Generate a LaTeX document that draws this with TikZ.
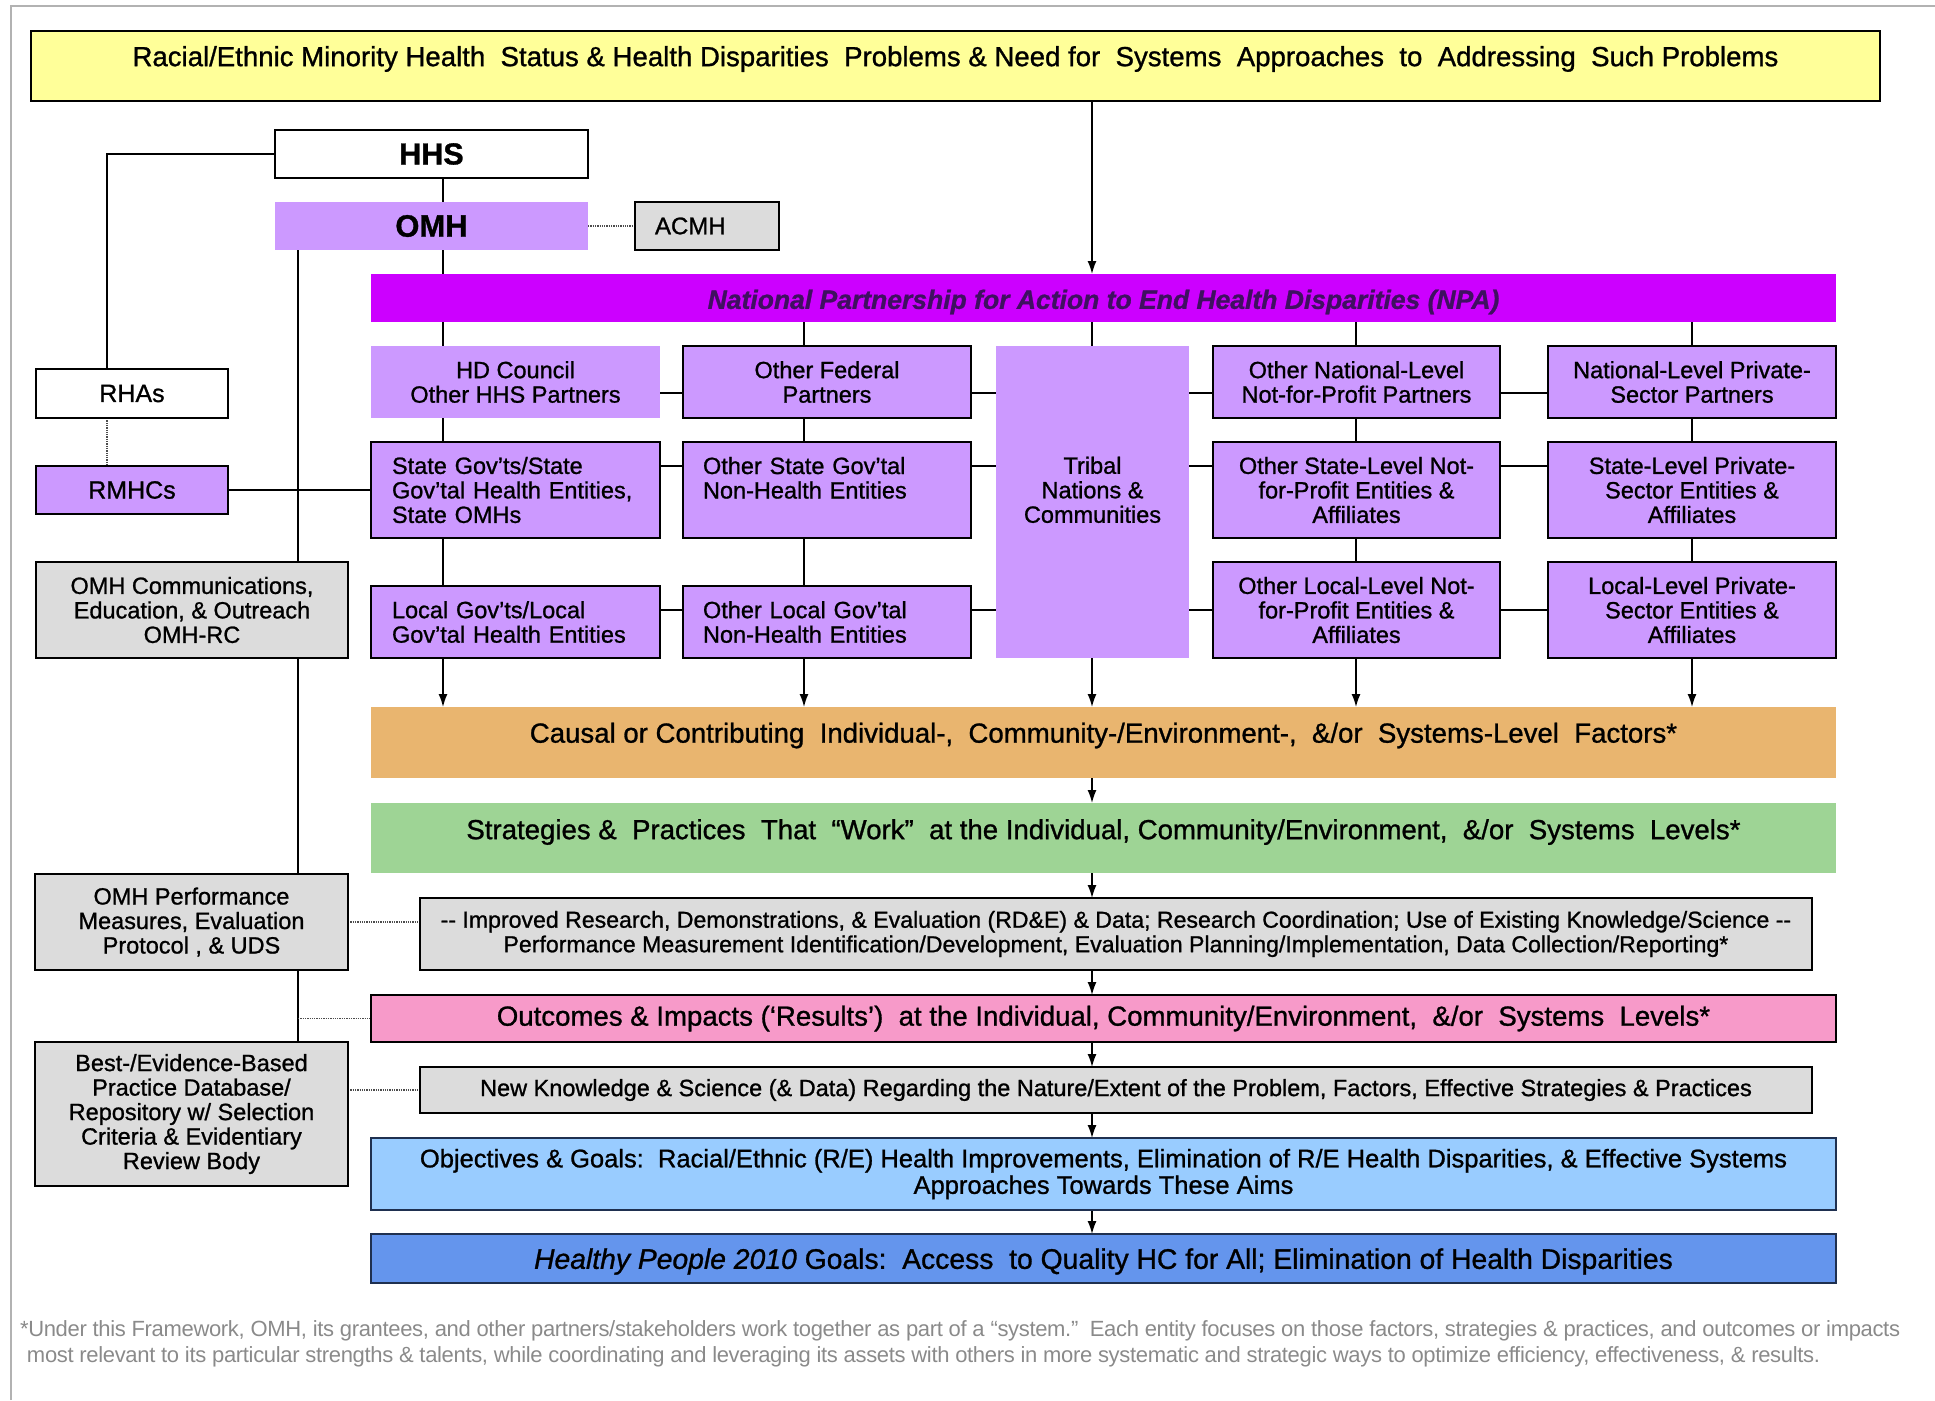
\documentclass[tikz,border=0pt]{standalone}
\usepackage{fontspec}
\setmainfont{Liberation Sans}[FakeBold=1.0]
\newfontfamily\notefont[LetterSpace=-1.5]{Liberation Sans}
\usetikzlibrary{arrows.meta,backgrounds}

\definecolor{lavender}{HTML}{CC99FF}
\definecolor{npaviolet}{HTML}{CC00FF}
\definecolor{npatext}{HTML}{3F1060}
\definecolor{boxgray}{HTML}{DCDCDC}
\definecolor{paleyellow}{HTML}{FFFF99}
\definecolor{tan}{HTML}{E9B56F}
\definecolor{softgreen}{HTML}{9ED495}
\definecolor{rosepink}{HTML}{F79AC9}
\definecolor{skyblue}{HTML}{99CCFF}
\definecolor{hpblue}{HTML}{6495ED}
\definecolor{navy}{HTML}{1F3050}
\definecolor{notegray}{HTML}{8A8A8A}

% shift a label inside its box without changing the box size
\newcommand{\lift}[2]{\raisebox{#1}[\height][\depth]{#2}}

\tikzset{
  box/.style={draw=black, line width=2, inner sep=0pt, outer sep=0pt, align=center,
    font=\fontsize{23.5}{24.5}\selectfont},
  flat/.style={inner sep=0pt, outer sep=0pt, align=center,
    font=\fontsize{23.5}{24.5}\selectfont},
  bigtext/.style={font=\fontsize{27.6}{29}\selectfont},
  link/.style={line width=1.5},
  dotlink/.style={line width=1.3, densely dotted, black!70},
  flow/.style={line width=1.5, -{Latex[length=13pt,width=9pt]}},
  note/.style={inner sep=0pt, outer sep=0pt, text=notegray, font=\notefont\fontsize{22}{24}\selectfont}
}

\begin{document}
\begin{tikzpicture}[x=1pt, y=-1pt]
    \useasboundingbox (0,0) rectangle (1935,1400);
    % Page frame
    \draw[gray!60, line width=1.5] (11,1400) -- (11,6) -- (1935,6);

    % Column and row guides for the connectors
    \coordinate (rhaX) at (107,0);
    \coordinate (omhX) at (298,0);
    \coordinate (colA) at (443,0);
    \coordinate (colB) at (804,0);
    \coordinate (colT) at (1092,0);
    \coordinate (colC) at (1356,0);
    \coordinate (colD) at (1692,0);
    \coordinate (rowOne) at (0,393);
    \coordinate (rowTwo) at (0,466);
    \coordinate (rowThree) at (0,610);

    % Problem statement
    \node[box, fill=paleyellow, minimum width=1849, minimum height=70, font=\fontsize{27.6}{30}\selectfont] (problem) at (955.5,66)
      {\lift{7pt}{Racial/Ethnic Minority Health\ \ Status \& Health Disparities\ \ Problems \& Need for\ \ Systems\ \ Approaches\ \ to\ \ Addressing\ \ Such Problems}};

    % HHS, OMH and advisory committee
    \node[box, fill=white, minimum width=313, minimum height=48, font=\bfseries\fontsize{30.5}{32}\selectfont] (hhs) at (431.5,154) {HHS};
    \node[flat, fill=lavender, minimum width=313, minimum height=48, font=\bfseries\fontsize{31}{32}\selectfont] (omh) at (431.5,226) {OMH};
    \node[box, fill=boxgray, minimum width=144, minimum height=48, text width=104, align=left, font=\fontsize{24}{26}\selectfont] (acmh) at (707,226) {ACMH};

    % National Partnership bar
    \node[flat, fill=npaviolet, minimum width=1465, minimum height=48, text=npatext, font=\bfseries\itshape\fontsize{26.5}{28}\selectfont] (npa) at (1103.5,298)
      {\lift{-4pt}{National Partnership for Action to End Health Disparities (NPA)}};

    % Partner grid, first row
    \node[flat, fill=lavender, minimum width=289, minimum height=72] (hdc) at (515.5,382) {HD Council\\Other HHS Partners};
    \node[box, fill=lavender, minimum width=288, minimum height=72] (fed) at (827,382) {Other Federal\\Partners};
    \node[flat, fill=lavender, minimum width=193, minimum height=312] (tribal) at (1092.5,502) {Tribal\\Nations \&\\Communities\\\mbox{}};
    \node[box, fill=lavender, minimum width=287, minimum height=72] (natnfp) at (1356.5,382) {Other National-Level\\Not-for-Profit Partners};
    \node[box, fill=lavender, minimum width=288, minimum height=72] (natpriv) at (1692,382) {National-Level Private-\\Sector Partners};

    % second row
    \node[box, fill=lavender, minimum width=289, minimum height=96, text width=247, align=left] (stategov) at (515.5,490)
      {State Gov’ts/State\\Gov’tal Health Entities,\\State OMHs};
    \node[box, fill=lavender, minimum width=288, minimum height=96, text width=248, align=left] (statenh) at (827,490)
      {Other State Gov’tal\\Non-Health Entities\\\mbox{}};
    \node[box, fill=lavender, minimum width=287, minimum height=96] (statenfp) at (1356.5,490) {Other State-Level Not-\\for-Profit Entities \&\\Affiliates};
    \node[box, fill=lavender, minimum width=288, minimum height=96] (statepriv) at (1692,490) {State-Level Private-\\Sector Entities \&\\Affiliates};

    % third row
    \node[box, fill=lavender, minimum width=289, minimum height=72, text width=247, align=left] (localgov) at (515.5,622)
      {Local Gov’ts/Local\\Gov’tal Health Entities};
    \node[box, fill=lavender, minimum width=288, minimum height=72, text width=248, align=left] (localnh) at (827,622)
      {Other Local Gov’tal\\Non-Health Entities};
    \node[box, fill=lavender, minimum width=287, minimum height=96] (localnfp) at (1356.5,610) {Other Local-Level Not-\\for-Profit Entities \&\\Affiliates};
    \node[box, fill=lavender, minimum width=288, minimum height=96] (localpriv) at (1692,610) {Local-Level Private-\\Sector Entities \&\\Affiliates};

    % Regional offices and OMH support functions
    \node[box, fill=white, minimum width=192, minimum height=49, font=\fontsize{25}{27}\selectfont] (rhas) at (132,393.5) {RHAs};
    \node[box, fill=lavender, minimum width=192, minimum height=48, font=\fontsize{25}{27}\selectfont] (rmhcs) at (132,490) {RMHCs};
    \node[box, fill=boxgray, minimum width=312, minimum height=96] (comms) at (192,610) {OMH Communications,\\Education, \& Outreach\\OMH-RC};
    \node[box, fill=boxgray, minimum width=313, minimum height=96] (perf) at (191.5,922) {OMH Performance\\Measures, Evaluation\\Protocol , \& UDS};
    \node[box, fill=boxgray, minimum width=313, minimum height=144] (bestdb) at (191.5,1114)
      {Best-/Evidence-Based\\Practice Database/\\Repository w/ Selection\\Criteria \& Evidentiary\\Review Body};

    % Flow from factors to goals
    \node[flat, bigtext, fill=tan, minimum width=1465, minimum height=71] (factors) at (1103.5,742.5)
      {\lift{7pt}{Causal or Contributing\ \ Individual-,\ \ Community-/Environment-,\ \ \&/or\ \ Systems-Level\ \ Factors*}};
    \node[flat, bigtext, fill=softgreen, minimum width=1465, minimum height=70] (works) at (1103.5,838)
      {\lift{6pt}{Strategies \&\ \ Practices\ \ That\ \ “Work”\ \ at the Individual, Community/Environment,\ \ \&/or\ \ Systems\ \ Levels*}};
    \node[box, fill=boxgray, minimum width=1392, minimum height=72, font=\fontsize{23.1}{24.5}\selectfont] (research) at (1116,934)
      {{-}{-} Improved Research, Demonstrations, \& Evaluation (RD\&E) \& Data; Research Coordination; Use of Existing Knowledge/Science {-}{-}\\
       Performance Measurement Identification/Development, Evaluation Planning/Implementation, Data Collection/Reporting*};
    \node[box, bigtext, fill=rosepink, minimum width=1465, minimum height=47] (results) at (1103.5,1018.5)
      {Outcomes \& Impacts (‘Results’)\ \ at the Individual, Community/Environment,\ \ \&/or\ \ Systems\ \ Levels*};
    \node[box, fill=boxgray, minimum width=1392, minimum height=46, font=\fontsize{23.5}{25}\selectfont] (knowledge) at (1116,1090)
      {New Knowledge \& Science (\& Data) Regarding the Nature/Extent of the Problem, Factors, Effective Strategies \& Practices};
    \node[box, draw=navy, fill=skyblue, minimum width=1465, minimum height=72, font=\fontsize{25.5}{26.5}\selectfont] (goals) at (1103.5,1174)
      {Objectives \& Goals:\ \ Racial/Ethnic (R/E) Health Improvements, Elimination of R/E Health Disparities, \& Effective Systems\\
       Approaches Towards These Aims};
    \node[box, draw=navy, fill=hpblue, minimum width=1465, minimum height=49, font=\fontsize{28.3}{29}\selectfont] (hp2010) at (1103.5,1258.5)
      {\lift{-3pt}{\textit{Healthy People 2010} Goals:\ \ Access\ \ to Quality HC for All; Elimination of Health Disparities}};

    % Footnote
    \node[note, anchor=west] (noteone) at (20,1331)
      {*Under this Framework, OMH, its grantees, and other partners/stakeholders work together as part of a “system.”\ \ Each entity focuses on those factors, strategies \& practices, and outcomes or impacts};
    \node[note, anchor=west] (notetwo) at (27,1357)
      {most relevant to its particular strengths \& talents, while coordinating and leveraging its assets with others in more systematic and strategic ways to optimize efficiency, effectiveness, \& results.};

    % Connectors
    \begin{scope}[on background layer]
      \draw[link] (hhs.west) -| (rhas.north -| rhaX);
      \draw[dotlink] (rhas.south -| rhaX) -- (rmhcs.north -| rhaX);
      \draw[link] (rmhcs.east) -- (stategov.west |- rmhcs.east);
      \draw[link] (omh.south -| omhX) -- (bestdb.north -| omhX);
      \draw[link] (hhs.south -| colA) -- (omh.north -| colA);
      \draw[link] (omh.south -| colA) -- (npa.north -| colA);
      \draw[dotlink] (omh.east) -- (acmh.west);
      \draw[flow] (problem.south -| colT) -- (npa.north -| colT);
      % partnership down to the first row
      \foreach \c in {colA,colB,colT,colC,colD}
        \draw[link] (npa.south -| \c) -- (hdc.north -| \c);
      % between the rows
      \foreach \c in {colA,colB,colC,colD}
        \draw[link] (hdc.south -| \c) -- (stategov.north -| \c);
      \foreach \c in {colA,colB}
        \draw[link] (stategov.south -| \c) -- (localgov.north -| \c);
      \foreach \c in {colC,colD}
        \draw[link] (stategov.south -| \c) -- (localnfp.north -| \c);
      % across the rows
      \draw[link] (hdc.east |- rowOne) -- (natpriv.west |- rowOne);
      \draw[link] (stategov.east |- rowTwo) -- (statepriv.west |- rowTwo);
      \draw[link] (localgov.east |- rowThree) -- (localpriv.west |- rowThree);
      % into the factors bar
      \foreach \c in {colA,colB,colT,colC,colD}
        \draw[flow] (localgov.south -| \c) -- (factors.north -| \c);
      % down the chain
      \foreach \a/\b in {factors/works, works/research, research/results, results/knowledge, knowledge/goals, goals/hp2010}
        \draw[flow] (\a.south -| colT) -- (\b.north -| colT);
      % OMH support functions
      \draw[dotlink] (perf.east) -- (research.west |- perf.east);
      \draw[dotlink] (omhX |- results.west) -- (results.west);
      \draw[dotlink] (bestdb.east |- knowledge.west) -- (knowledge.west);
    \end{scope}
\end{tikzpicture}
\end{document}
